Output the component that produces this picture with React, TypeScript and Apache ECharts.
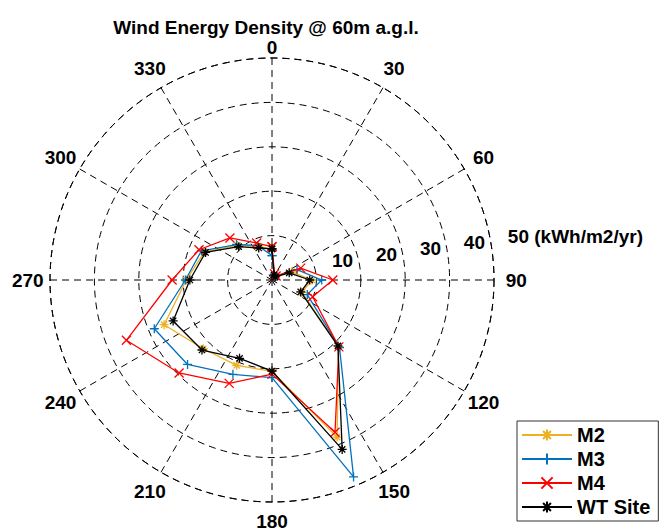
import React, { useEffect, useRef } from "react";
import * as echarts from "echarts";

const angles = [0, 22.5, 45, 67.5, 90, 112.5, 135, 157.5, 180, 202.5, 225, 247.5, 270, 292.5, 315, 337.5];
const m2 = [7.0, 1.3, 1.1, 4.8, 9.0, 7.3, 21.2, 38.3, 20.6, 20.8, 21.9, 26.3, 19.3, 16.5, 11.0, 8.2];
const m3 = [5.5, 1.4, 1.2, 6.1, 11.2, 8.6, 21.5, 48.0, 22.0, 23.0, 26.9, 28.7, 19.5, 17.2, 11.3, 8.4];
const m4 = [7.5, 1.5, 1.3, 7.0, 13.7, 9.9, 21.3, 37.1, 21.2, 25.2, 29.6, 35.5, 22.5, 17.8, 13.4, 9.0];
const wt = [7.0, 1.2, 1.0, 4.2, 8.5, 7.0, 21.0, 41.3, 20.5, 19.1, 22.3, 24.1, 18.5, 16.2, 10.6, 7.8];

const angleTicks = [0, 30, 60, 90, 120, 150, 180, 210, 240, 270, 300, 330];
const radiusTicks = [10, 20, 30, 40, 50];
const seriesNames = ["M2", "M3", "M4", "WT Site"];

const CX = 272;
const CY = 280;
const R = 222;
const RMAX = 50;
const FONT = "'Liberation Sans', Arial, Helvetica, sans-serif";

const starPath = "path://M5,0 L5,10 M0,5 L10,5 M1.5,1.5 L8.5,8.5 M8.5,1.5 L1.5,8.5";
const plusPath = "path://M5,0 L5,10 M0,5 L10,5";
const xPath = "path://M0,0 L10,10 M10,0 L0,10";

function toPolar(vals: number[]) {
  const d = vals.map((v, i) => [v, angles[i]]);
  d.push([vals[0], 360]);
  return d;
}

export default function App() {
  const ref = useRef<HTMLDivElement>(null);
  useEffect(() => {
    if (!ref.current) return;
    const chart = echarts.init(ref.current, undefined, { renderer: "svg" });
    const colors = ["#EDB120", "#0072BD", "#FF0000", "#000000"];
    const symbols = [starPath, plusPath, xPath, starPath];
    const datas = [m2, m3, m4, wt];

    const graphics: any[] = [];
    graphics.push({
      type: "text",
      x: 266,
      y: 27,
      style: {
        text: "Wind Energy Density @ 60m a.g.l.",
        font: `bold 19px ${FONT}`,
        fill: "#000",
        align: "center",
        verticalAlign: "middle",
      },
    });
    angleTicks.forEach((a) => {
      let rr = R * 1.1;
      if (a === 0) rr = R + 11;
      if (a === 180) rr = R + 19;
      const rad = (a * Math.PI) / 180;
      graphics.push({
        type: "text",
        x: CX + rr * Math.sin(rad),
        y: CY - rr * Math.cos(rad),
        style: {
          text: String(a),
          font: `bold 19px ${FONT}`,
          fill: "#000",
          align: "center",
          verticalAlign: "middle",
        },
      });
    });
    const la = (82 * Math.PI) / 180;
    radiusTicks.forEach((v) => {
      const rr = (v / RMAX) * R;
      graphics.push({
        type: "text",
        x: CX + rr * Math.sin(la) + 16,
        y: CY - rr * Math.cos(la) - 13,
        style: {
          text: v === RMAX ? `${v} (kWh/m2/yr)` : String(v),
          font: `bold 19px ${FONT}`,
          fill: "#000",
          align: "left",
          verticalAlign: "middle",
        },
      });
    });

    chart.setOption({
      animation: false,
      backgroundColor: "#fff",
      polar: { center: [CX, CY], radius: R },
      angleAxis: {
        type: "value",
        min: 0,
        max: 360,
        interval: 30,
        startAngle: 90,
        clockwise: true,
        axisLine: { show: true, lineStyle: { color: "#000", width: 1, type: [7, 5] } },
        axisTick: { show: false },
        axisLabel: { show: false },
        splitLine: { show: true, lineStyle: { color: "#000", width: 1, type: [7, 5] } },
      },
      radiusAxis: {
        type: "value",
        min: 0,
        max: RMAX,
        interval: 10,
        axisLine: { show: false },
        axisTick: { show: false },
        axisLabel: { show: false },
        splitLine: { show: true, lineStyle: { color: "#000", width: 1, type: [7, 5] } },
      },
      legend: {
        orient: "vertical",
        left: 517,
        top: 421,
        backgroundColor: "#fff",
        borderColor: "#333",
        borderWidth: 1,
        borderRadius: 0,
        padding: [4, 8, 4, 4],
        itemGap: 4,
        itemWidth: 50,
        itemHeight: 14,
        textStyle: { fontFamily: FONT, fontWeight: "bold", fontSize: 20, color: "#000" },
        data: seriesNames,
      },
      graphic: graphics,
      series: datas.map((d, i) => ({
        name: seriesNames[i],
        type: "line",
        coordinateSystem: "polar",
        data: toPolar(d),
        symbol: symbols[i],
        symbolSize: 9,
        showSymbol: true,
        lineStyle: { color: colors[i], width: 1.3 },
        itemStyle: { color: colors[i], borderColor: colors[i], borderWidth: 1.3 },
        z: 3 + i,
      })),
    });
    return () => chart.dispose();
  }, []);
  return <div ref={ref} style={{ position: "fixed", left: 0, top: 0, width: 666, height: 531 }} />;
}
